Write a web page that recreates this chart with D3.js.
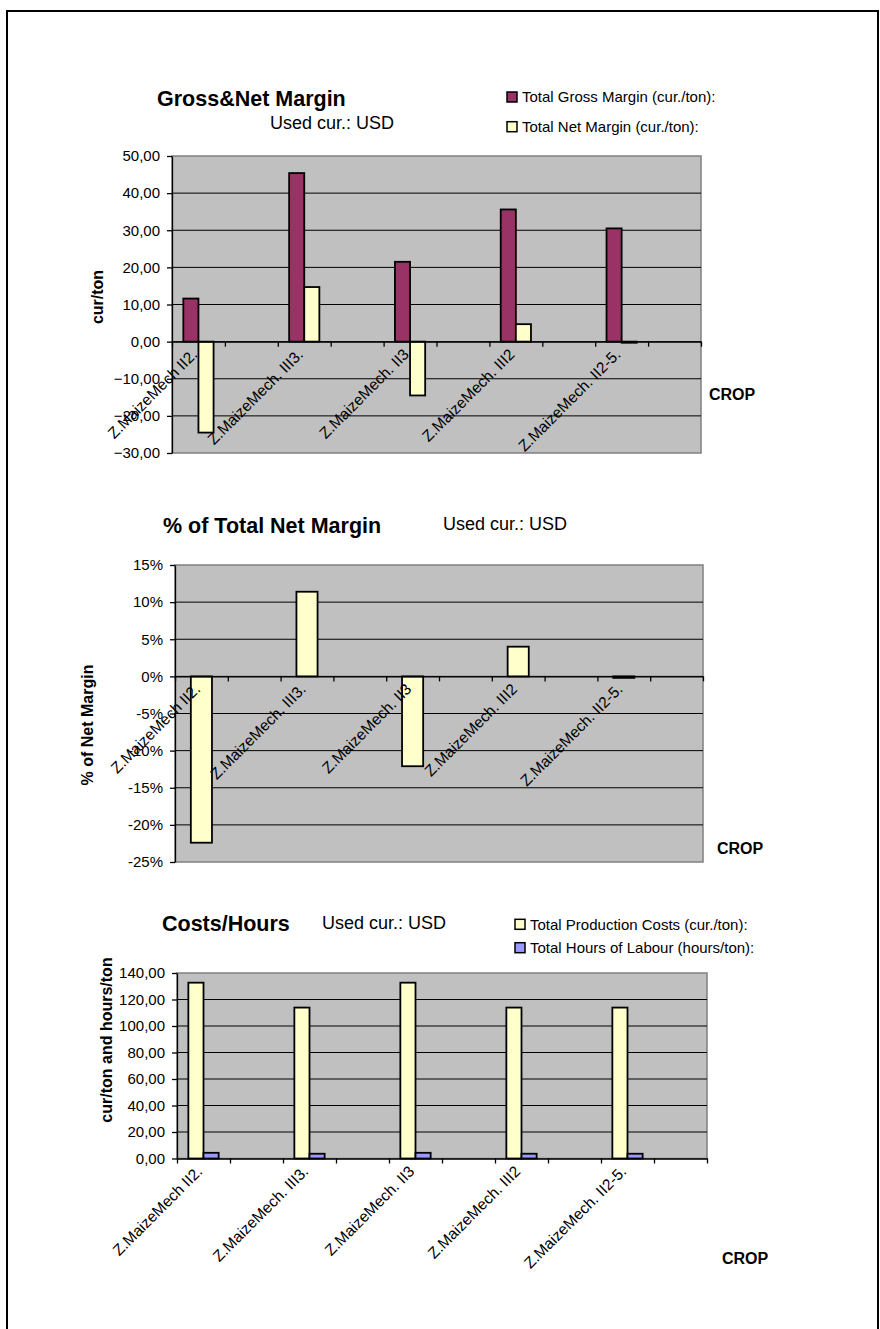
<!DOCTYPE html>
<html>
<head>
<meta charset="utf-8">
<script src="https://cdn.jsdelivr.net/npm/d3@7"></script>
<style>
  body { margin: 0; background: #fff; }
  svg { display: block; }
  text { font-family: "Liberation Sans", Arial, sans-serif; fill: #000; }
</style>
</head>
<body>
<svg id="sheet" width="880" height="1329"></svg>
<script>
// Crop rows of the margin sheet (empty rows are kept as blank categories)
const categories = ["Z.MaizeMech II2.", "", "Z.MaizeMech. III3.", "", "Z.MaizeMech. II3", "",
                    "Z.MaizeMech. III2", "", "Z.MaizeMech. II2-5.", ""];

// Gross & net margin, cur./ton
const grossMargin = [11.6, null, 45.4, null, 21.5, null, 35.6, null, 30.5, null];
const netMargin   = [-24.5, null, 14.7, null, -14.5, null, 4.7, null, -0.3, null];

// Net margin as % of total
const netMarginPct = [-22.4, null, 11.4, null, -12.1, null, 4.0, null, -0.2, null];

// Production costs (cur./ton) and labour (hours/ton)
const productionCosts = [132.7, null, 113.9, null, 132.7, null, 113.9, null, 113.9, null];
const labourHours     = [4.3, null, 3.6, null, 4.3, null, 3.6, null, 3.6, null];

// Axis tick values
const marginTicks = [50, 40, 30, 20, 10, 0, -10, -20, -30];
const pctTicks    = [15, 10, 5, 0, -5, -10, -15, -20, -25];
const costTicks   = [140, 120, 100, 80, 60, 40, 20, 0];

const currency = "USD";

const locale = d3.formatLocale({ decimal: ",", thousands: ".", grouping: [3], currency: ["", ""] });
const fmt2 = locale.format(".2f");
const fmtPct = d => d + "%";

const svg = d3.select("#sheet");

// Sheet frame
svg.append("rect")
  .attr("x", 7).attr("y", 11).attr("width", 871).attr("height", 1330)
  .attr("fill", "none").attr("stroke", "#000").attr("stroke-width", 2);

function drawChart(cfg) {
  const g = svg.append("g");
  const n = categories.length;
  const x = d3.scaleBand().domain(d3.range(n)).range([cfg.left, cfg.right]);
  const xEdge = d3.scaleLinear().domain([0, n]).range([cfg.left, cfg.right]);
  const y = d3.scaleLinear().domain(cfg.domain).range([cfg.bottom, cfg.top]);
  const inner = d3.scaleBand().domain(cfg.series.map(s => s.name))
    .range([0, x.bandwidth()]).paddingInner(0).paddingOuter(0.75);

  // plot area
  g.append("rect")
    .attr("x", cfg.left).attr("y", cfg.top)
    .attr("width", cfg.right - cfg.left).attr("height", cfg.bottom - cfg.top)
    .attr("fill", "#c0c0c0").attr("stroke", "#808080").attr("stroke-width", 1.5);

  // horizontal gridlines
  const [lo, hi] = cfg.domain;
  g.selectAll("line.grid")
    .data(cfg.ticks.filter(t => t !== lo && t !== hi))
    .join("line")
    .attr("x1", cfg.left).attr("x2", cfg.right)
    .attr("y1", d => y(d)).attr("y2", d => y(d))
    .attr("stroke", "#000").attr("stroke-width", 1);

  // bars
  cfg.series.forEach(s => {
    g.selectAll(null)
      .data(s.values.map((v, i) => ({ v, i })).filter(d => d.v !== null))
      .join("rect")
      .attr("x", d => x(d.i) + inner(s.name))
      .attr("width", inner.bandwidth())
      .attr("y", d => y(Math.max(0, d.v)))
      .attr("height", d => Math.max(0.5, Math.abs(y(d.v) - y(0))))
      .attr("fill", s.color)
      .attr("stroke", "#000").attr("stroke-width", 1.8);
  });

  // value axis
  const yAxis = g.append("g")
    .attr("transform", `translate(${cfg.left},0)`)
    .call(d3.axisLeft(y).tickValues(cfg.ticks).tickFormat(cfg.format).tickSize(5).tickSizeOuter(0).tickPadding(7));
  yAxis.select(".domain").attr("stroke", "#000").attr("stroke-width", 1.3);
  yAxis.selectAll(".tick line").attr("stroke", "#000").attr("stroke-width", 1.3);
  yAxis.selectAll(".tick text").attr("font-size", 15).attr("font-family", '"Liberation Sans", Arial, sans-serif');

  // category axis at zero
  const xAxis = g.append("g")
    .attr("transform", `translate(0,${y(0)})`)
    .call(d3.axisBottom(xEdge).ticks(n).tickFormat("").tickSize(5).tickSizeOuter(0));
  xAxis.select(".domain").attr("stroke", "#000").attr("stroke-width", 1.3);
  xAxis.selectAll(".tick line").attr("stroke", "#000").attr("stroke-width", 1.3);

  // category labels
  g.selectAll("text.cat")
    .data(categories.map((c, i) => ({ c, i })).filter(d => d.c !== ""))
    .join("text")
    .attr("class", "cat")
    .attr("font-size", 15.5)
    .attr("text-anchor", "end")
    .attr("transform", d => `translate(${x(d.i) + x.bandwidth() / 2 - 4},${y(0) + 10}) rotate(-45)`)
    .attr("dy", "0.35em")
    .text(d => d.c);

  // axis titles
  g.append("text")
    .attr("font-size", 16).attr("font-weight", "bold").attr("text-anchor", "middle")
    .attr("transform", `translate(${cfg.yTitleX},${cfg.yTitleY}) rotate(-90)`)
    .attr("dy", "0.35em")
    .text(cfg.yTitle);
  g.append("text")
    .attr("font-size", 16).attr("font-weight", "bold")
    .attr("x", cfg.cropX).attr("y", cfg.cropY).attr("dy", "0.35em")
    .text("CROP");

  // chart title and currency note
  g.append("text")
    .attr("font-size", 21.5).attr("font-weight", "bold")
    .attr("x", cfg.titleX).attr("y", cfg.titleY).attr("dy", "0.35em")
    .text(cfg.title);
  g.append("text")
    .attr("font-size", 18)
    .attr("x", cfg.curX).attr("y", cfg.curY).attr("dy", "0.35em")
    .text("Used cur.: " + currency);

  // legend
  if (cfg.legend) {
    cfg.series.forEach((s, k) => {
      const cy = cfg.legendY[k];
      g.append("rect")
        .attr("x", cfg.legendX).attr("y", cy - 5).attr("width", 10).attr("height", 10)
        .attr("fill", s.color).attr("stroke", "#000").attr("stroke-width", 1.5);
      g.append("text")
        .attr("font-size", 15)
        .attr("x", cfg.legendX + 15).attr("y", cy).attr("dy", "0.35em")
        .text(s.name);
    });
  }
}

drawChart({
  left: 172, right: 701, top: 156, bottom: 453,
  domain: [-30, 50], ticks: marginTicks, format: fmt2,
  series: [
    { name: "Total Gross Margin (cur./ton):", values: grossMargin, color: "#993366" },
    { name: "Total Net Margin (cur./ton):", values: netMargin, color: "#ffffcc" }
  ],
  yTitle: "cur/ton", yTitleX: 97, yTitleY: 297,
  cropX: 709, cropY: 394,
  title: "Gross&Net Margin", titleX: 157, titleY: 98,
  curX: 270, curY: 123,
  legend: true, legendX: 507, legendY: [97, 126.7]
});

drawChart({
  left: 175, right: 703, top: 565, bottom: 862,
  domain: [-25, 15], ticks: pctTicks, format: fmtPct,
  series: [
    { name: "% of Total Net Margin", values: netMarginPct, color: "#ffffcc" }
  ],
  yTitle: "% of Net Margin", yTitleX: 87, yTitleY: 725,
  cropX: 717, cropY: 848,
  title: "% of Total Net Margin", titleX: 163, titleY: 525,
  curX: 443, curY: 524,
  legend: false
});

drawChart({
  left: 177, right: 707, top: 973, bottom: 1158.5,
  domain: [0, 140], ticks: costTicks, format: fmt2,
  series: [
    { name: "Total Production Costs (cur./ton):", values: productionCosts, color: "#ffffcc" },
    { name: "Total Hours of Labour (hours/ton):", values: labourHours, color: "#9999ff" }
  ],
  yTitle: "cur/ton and hours/ton", yTitleX: 106, yTitleY: 1040,
  cropX: 722, cropY: 1258,
  title: "Costs/Hours", titleX: 162, titleY: 923,
  curX: 322, curY: 923,
  legend: true, legendX: 515, legendY: [924.3, 947.7]
});
</script>
</body>
</html>
